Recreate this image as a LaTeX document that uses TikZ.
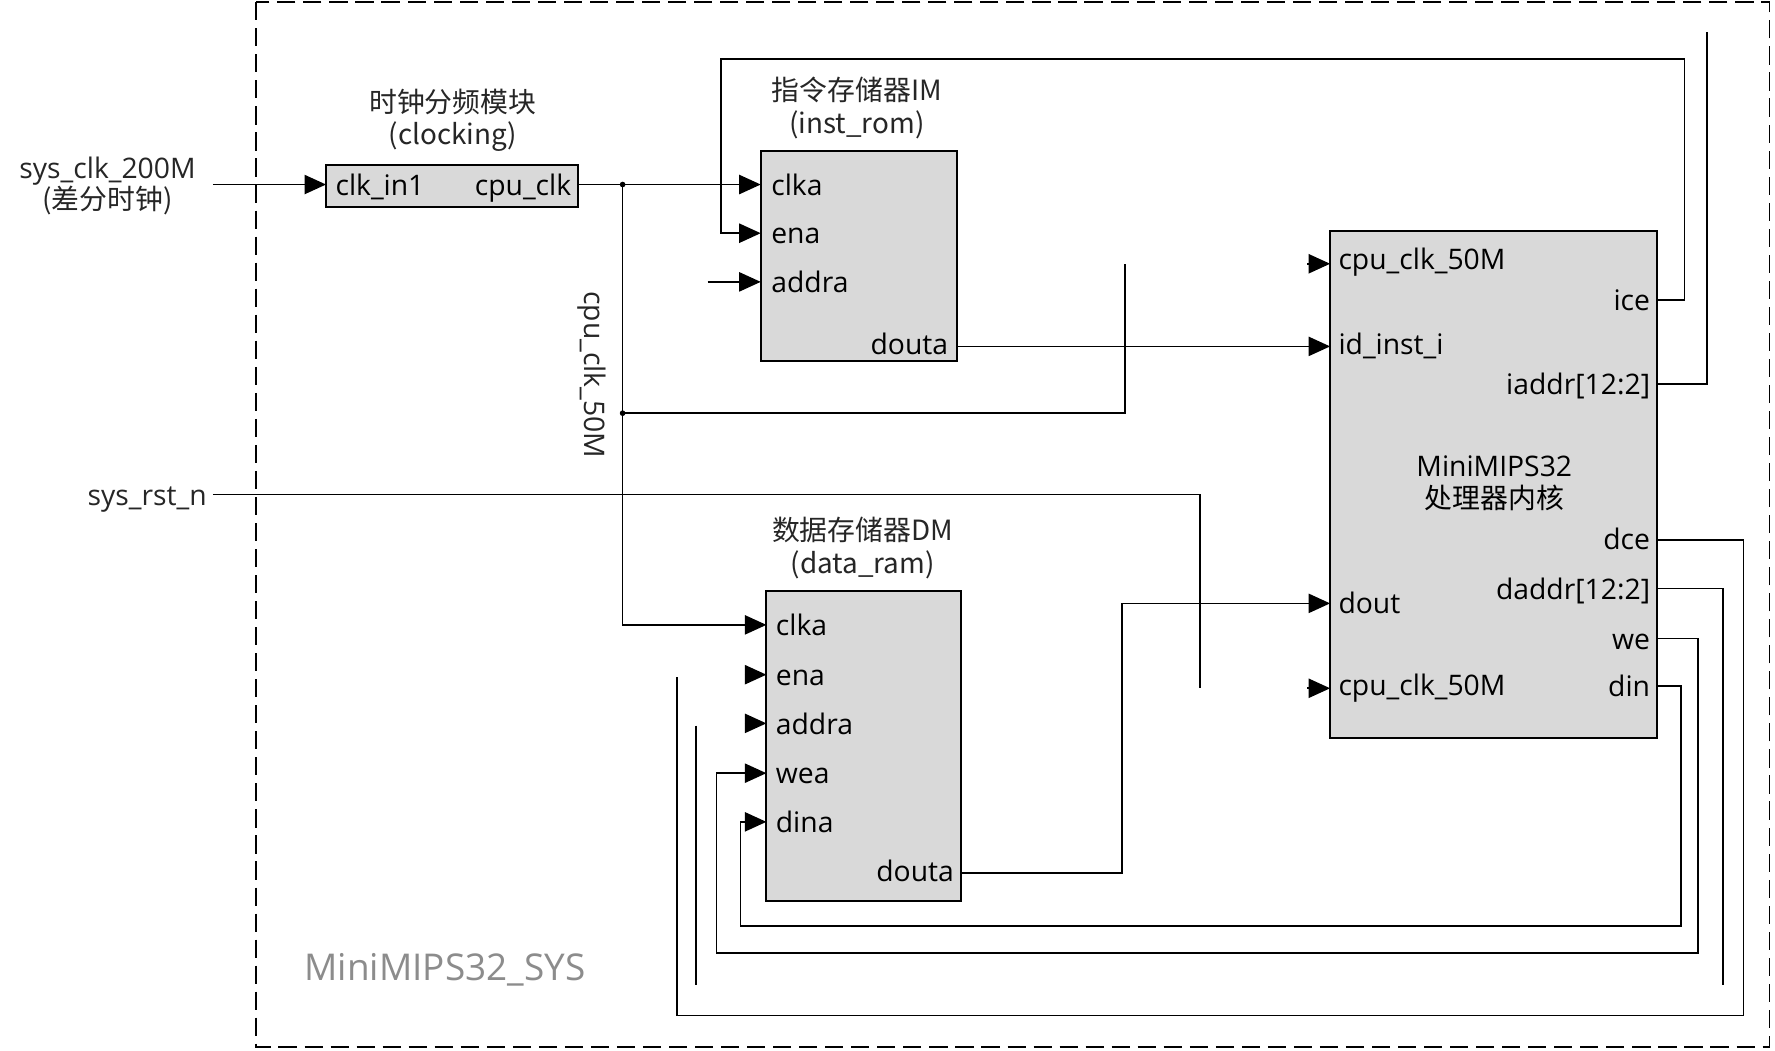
\documentclass[tikz,border=0pt]{standalone}
\usepackage{fontspec}
\setmainfont{Open Sans}
\newfontfamily\cjk{Noto Sans CJK SC}
\usetikzlibrary{arrows.meta}
\definecolor{boxgray}{HTML}{D9D9D9}
\begin{document}
\begin{tikzpicture}[x=0.5pt,y=-0.5pt,
  wire/.style={draw=black, line width=0.7pt},
  arr/.style={-{Triangle[length=9.5pt,width=8.5pt]}},
  blk/.style={draw=black, fill=boxgray, line width=0.9pt, inner sep=0pt, outer sep=0pt, anchor=north west},
  port/.style={font=\fontsize{12.5}{14}\selectfont, inner sep=0pt, text height=9pt, text depth=2.5pt, yshift=-1.5pt},
  ttl/.style={font=\cjk\fontsize{12.3}{14}\selectfont, inner sep=0pt, text height=9pt, text depth=2.5pt, text=black!85, yshift=-1.5pt},
  lbl/.style={font=\fontsize{12.5}{14}\selectfont, inner sep=0pt, text height=9pt, text depth=2.5pt, text=black!85, yshift=-1.5pt},
  dot/.style={circle, fill=black, inner sep=0pt, minimum size=2.5pt}
]
\useasboundingbox (0,0) rectangle (1568,928);
\fill[white] (0,0) rectangle (1568,928);

% outer dashed border
\draw[black, line width=0.7pt, dash pattern=on 8pt off 3.5pt] (226,2) rectangle (1563,925);
\node[lbl, font=\fontsize{16.3}{18}\selectfont, text=black!45, anchor=center] (sysname) at (393,857) {MiniMIPS32\_SYS};

% boxes
\node[blk, minimum width=111.5pt, minimum height=18.5pt] (clk) at (288,146) {};
\node[blk, minimum width=86.5pt, minimum height=93pt] (im) at (672,133) {};
\node[blk, minimum width=86pt, minimum height=137pt] (dm) at (677,522) {};
\node[blk, minimum width=144.5pt, minimum height=224pt] (cpu) at (1175,204) {};

% titles
\node[ttl] (clkt1) at (400,90) {时钟分频模块};
\node[ttl] (clkt2) at (400,118) {(clocking)};
\node[ttl] (imt1) at (757,79) {指令存储器IM};
\node[ttl] (imt2) at (757,108) {(inst\_rom)};
\node[ttl] (dmt1) at (762,468) {数据存储器DM};
\node[ttl] (dmt2) at (762,497) {(data\_ram)};
\node[port] (cput1) at (1320,411) {MiniMIPS32};
\node[port, font=\cjk\fontsize{12.3}{14}\selectfont] (cput2) at (1320,440) {处理器内核};

% external labels
\node[lbl] (sysclk1) at (95,148) {sys\_clk\_200M};
\node[ttl] (sysclk2) at (95,176) {(差分时钟)};
\node[lbl, anchor=east] (sysrst) at (183,437) {sys\_rst\_n};
\node[lbl, rotate=-90, yshift=0pt] (cpuclklbl) at (523,328) {cpu\_clk\_50M};

% port labels: clocking
\node[port, anchor=west] at (296,163) {clk\_in1};
\node[port, anchor=east] at (505,163) {cpu\_clk};
% IM
\node[port, anchor=west] at (681,163) {clka};
\node[port, anchor=west] at (681,206) {ena};
\node[port, anchor=west] at (681,249) {addra};
\node[port, anchor=east] at (838,304) {douta};
% DM
\node[port, anchor=west] at (685,552) {clka};
\node[port, anchor=west] at (685,596) {ena};
\node[port, anchor=west] at (685,639) {addra};
\node[port, anchor=west] at (685,683) {wea};
\node[port, anchor=west] at (685,726) {dina};
\node[port, anchor=east] at (843,769) {douta};
% CPU
\node[port, anchor=west] at (1182,229) {cpu\_clk\_50M};
\node[port, anchor=west] at (1182,304) {id\_inst\_i};
\node[port, anchor=west] at (1182,532) {dout};
\node[port, anchor=west] at (1182,605) {cpu\_clk\_50M};
\node[port, anchor=east] at (1458,265) {ice};
\node[port, anchor=east] at (1458,339) {iaddr[12:2]};
\node[port, anchor=east] at (1458,476) {dce};
\node[port, anchor=east] at (1458,520) {daddr[12:2]};
\node[port, anchor=east] at (1458,564) {we};
\node[port, anchor=east] at (1458,606) {din};

% pins
\coordinate (clkin) at (288,163);
\coordinate (clkout) at (511,163);
\coordinate (imclka) at (672,163);
\coordinate (imena) at (672,206);
\coordinate (imaddra) at (672,249);
\coordinate (imdouta) at (845,306);
\coordinate (dmclka) at (677,552);
\coordinate (dmena) at (677,596);
\coordinate (dmaddra) at (677,639);
\coordinate (dmwea) at (677,683);
\coordinate (dmdina) at (677,726);
\coordinate (dmdouta) at (849,771);
\coordinate (cpuclkA) at (1175,233);
\coordinate (cpuinst) at (1175,306);
\coordinate (cpudout) at (1175,533);
\coordinate (cpuclkB) at (1175,608);
\coordinate (cpuice) at (1464,265);
\coordinate (cpuiaddr) at (1464,339);
\coordinate (cpudce) at (1464,477);
\coordinate (cpudaddr) at (1464,520);
\coordinate (cpuwe) at (1464,564);
\coordinate (cpudin) at (1464,606);

% free ends
\coordinate (sysclkin) at (188,163);
\coordinate (sysrstin) at (188,437);
\coordinate (rstend) at (1060,608);
\coordinate (clk50end) at (994,233);
\coordinate (iaddrend) at (1508,28);
\coordinate (addrstub) at (625,249);
\coordinate (daddrend) at (1522,870);
\coordinate (dmaddrtop) at (615,641);
\coordinate (dmaddrbot) at (615,870);
\coordinate (dceend) at (598,598);
\coordinate (j1) at (550,163);
\coordinate (j2) at (550,365);
\coordinate (aA) at (1155,233);
\coordinate (aB) at (1155,608);
\coordinate (aE) at (658,596);
\coordinate (aD) at (658,639);

% wires
\draw[wire, arr] (sysclkin) -- (clkin);
\draw[wire, arr] (clkout) -- (j1) -- (imclka);
\draw[wire, arr] (j1) -- (j2) -- (550,552) -- (dmclka);
\draw[wire] (j2) -- (994,365) -- (clk50end);
\draw[wire, arr] (cpuice) -- (1488,265) -- (1488,52) -- (637,52) -- (637,206) -- (imena);
\draw[wire, arr] (addrstub) -- (imaddra);
\draw[wire] (cpuiaddr) -- (1508,339) -- (iaddrend);
\draw[wire, arr] (imdouta) -- (cpuinst);
\draw[wire] (sysrstin) -- (1060,437) -- (rstend);
\draw[wire, arr] (dmdouta) -- (991,771) -- (991,533) -- (cpudout);
\draw[wire] (cpudce) -- (1540,477) -- (1540,897) -- (598,897) -- (dceend);
\draw[wire] (cpudaddr) -- (1522,520) -- (daddrend);
\draw[wire] (dmaddrtop) -- (dmaddrbot);
\draw[wire, arr] (cpuwe) -- (1500,564) -- (1500,842) -- (633,842) -- (633,683) -- (dmwea);
\draw[wire, arr] (cpudin) -- (1485,606) -- (1485,818) -- (654,818) -- (654,726) -- (dmdina);
\draw[wire, arr] (aA) -- (cpuclkA);
\draw[wire, arr] (aB) -- (cpuclkB);
\draw[wire, arr] (aE) -- (dmena);
\draw[wire, arr] (aD) -- (dmaddra);

\node[dot] (d1) at (j1) {};
\node[dot] (d2) at (j2) {};
\end{tikzpicture}
\end{document}
